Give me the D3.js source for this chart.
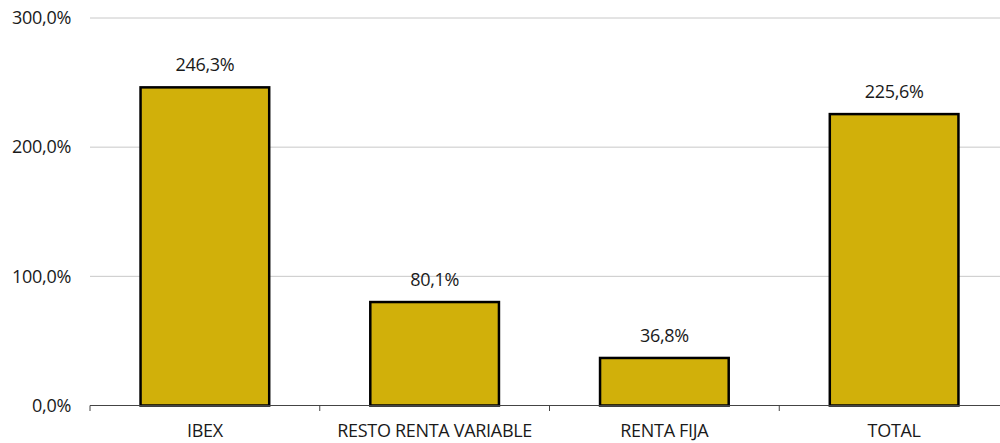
<!DOCTYPE html>
<html><head><meta charset="utf-8">
<script src="https://cdn.jsdelivr.net/npm/d3@7"></script>
<style>body{margin:0;background:#fff}text{font-family:"Open Sans",sans-serif;fill:#1a1a1a}</style>
</head><body><svg id="c" width="1000" height="443"></svg>
<script>
const categories = ["IBEX","RESTO RENTA VARIABLE","RENTA FIJA","TOTAL"];
const values = [246.3, 80.1, 36.8, 225.6];
const yTicks = [0,100,200,300];
const fmt = v => d3.format(".1f")(v).replace(".", ",") + "%";
const FS = 18;

const svg = d3.select("#c");
const x = d3.scaleBand().domain(categories).range([90,1009]).paddingInner(0.44).paddingOuter(0.22);
const y = d3.scaleLinear().domain([0,300]).range([405.5,18]);

svg.append("g").selectAll("line").data(yTicks.filter(d=>d>0)).join("line")
  .attr("x1",90).attr("x2",1009).attr("y1",d=>y(d)).attr("y2",d=>y(d))
  .attr("stroke","#c8c8c8").attr("stroke-width",1);

svg.append("g").selectAll("text").data(yTicks).join("text")
  .attr("x",71).attr("y",d=>y(d)).attr("dy","0.35em").attr("text-anchor","end")
  .attr("font-size",FS).attr("letter-spacing","-0.3").text(fmt);

svg.append("g").selectAll("rect").data(values).join("rect")
  .attr("x",(d,i)=>x(categories[i])).attr("width",x.bandwidth())
  .attr("y",d=>y(d)).attr("height",d=>y(0)-y(d))
  .attr("fill","#D1B00A").attr("stroke","#000").attr("stroke-width",2.5);

svg.append("g").selectAll("text").data(values).join("text")
  .attr("x",(d,i)=>x(categories[i])+x.bandwidth()/2).attr("y",d=>y(d)-16)
  .attr("text-anchor","middle").attr("font-size",FS).attr("letter-spacing","-0.3").text(fmt);

const bw = (1009-90)/categories.length;
svg.append("line").attr("x1",90).attr("x2",1009).attr("y1",405.5).attr("y2",405.5)
  .attr("stroke","#444").attr("stroke-width",1);
svg.append("g").selectAll("line").data(d3.range(categories.length+1)).join("line")
  .attr("x1",i=>90+i*bw).attr("x2",i=>90+i*bw).attr("y1",405.5).attr("y2",411)
  .attr("stroke","#444").attr("stroke-width",1);
svg.append("g").selectAll("text").data(categories).join("text")
  .attr("x",d=>x(d)+x.bandwidth()/2).attr("y",437).attr("text-anchor","middle")
  .attr("font-size",FS).attr("letter-spacing","-0.3").text(d=>d);
</script></body></html>
